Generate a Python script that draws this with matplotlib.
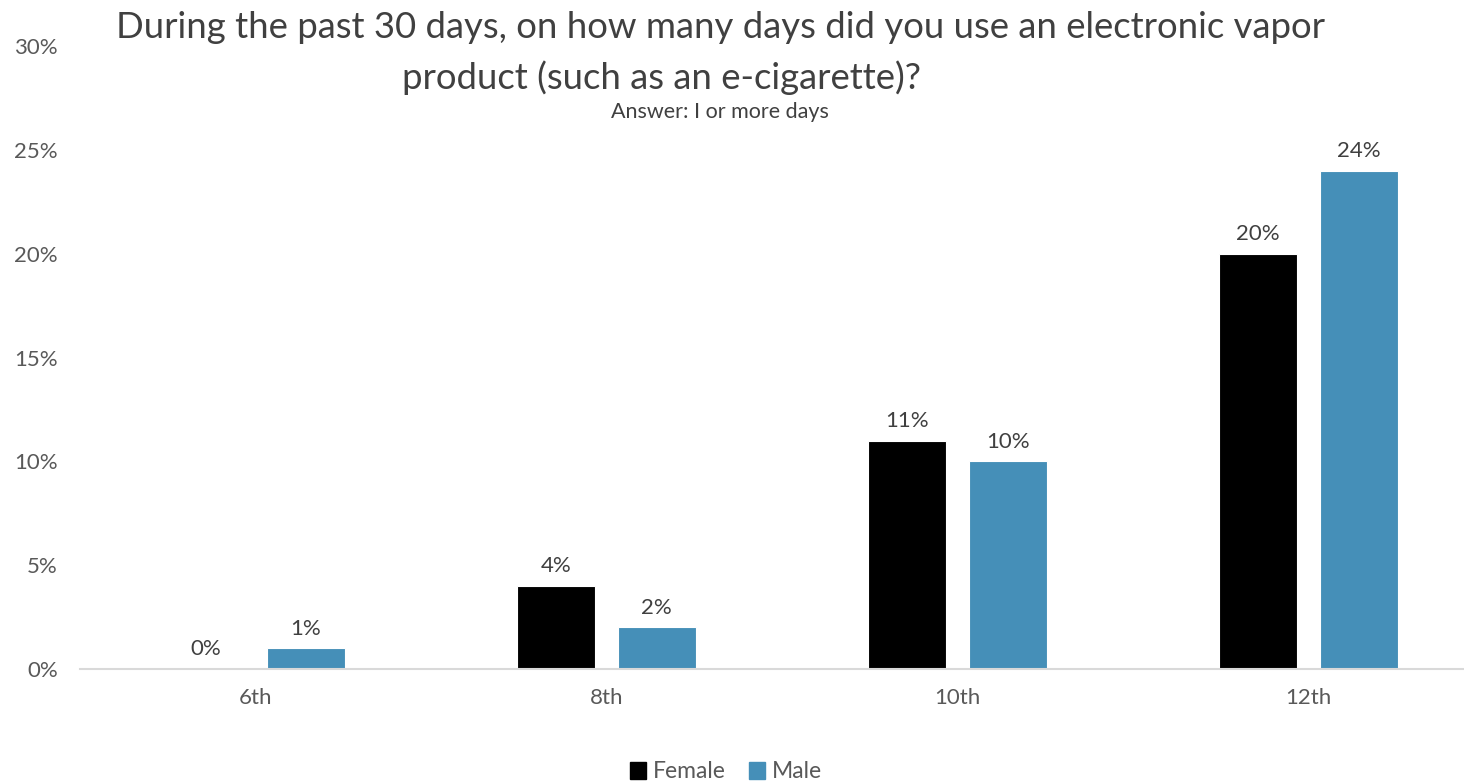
import matplotlib
matplotlib.use('Agg')
import matplotlib.pyplot as plt
import numpy as np
from matplotlib.patches import Patch

grades = ['6th', '8th', '10th', '12th']
female = [0, 4, 11, 20]
male = [1, 2, 10, 24]
yticks = [0, 5, 10, 15, 20, 25, 30]

BLUE = '#458FB8'
TEXT = '#595959'

plt.rcParams['font.family'] = ['Lato', 'DejaVu Sans']

fig = plt.figure(figsize=(14.64, 7.84), dpi=100)
ax = fig.add_axes([80 / 1464, 115 / 784, 1404 / 1464, 623 / 784])

x = np.arange(len(grades))
width = 0.222
off = 0.143
bf = ax.bar(x - off, female, width, color='black', edgecolor='white', linewidth=0.8)
bm = ax.bar(x + off, male, width, color=BLUE, edgecolor='white', linewidth=0.8)

for rects, vals in ((bf, female), (bm, male)):
    for r, v in zip(rects, vals):
        ax.annotate(f'{v}%', (r.get_x() + r.get_width() / 2, v),
                    xytext=(0, 7), textcoords='offset points',
                    ha='center', va='bottom', fontsize=16, color='#404040')

ax.set_xlim(-0.5, len(grades) - 0.5)
ax.set_ylim(0, 30)
ax.set_xticks(x)
ax.set_xticklabels(grades)
ax.set_yticks(yticks)
ax.set_yticklabels([f'{t}%' for t in yticks])
ax.tick_params(length=0, labelsize=16, labelcolor=TEXT)
ax.tick_params(axis='x', pad=14)
ax.tick_params(axis='y', pad=16)

for s in ('top', 'right', 'left'):
    ax.spines[s].set_visible(False)
ax.spines['bottom'].set_color('#D9D9D9')
ax.spines['bottom'].set_linewidth(1.5)

fig.text(721 / 1464, 1 - 28 / 784,
         'During the past 30 days, on how many days did you use an electronic vapor',
         ha='center', va='center', fontsize=26.3, color='#404040')
fig.text(662 / 1464, 1 - 78 / 784, 'product (such as an e-cigarette)?',
         ha='center', va='center', fontsize=26.3, color='#404040')
fig.text(720 / 1464, 1 - 112 / 784, 'Answer: I or more days',
         ha='center', va='center', fontsize=15.5, color='#404040')

handles = [Patch(color='black', label='Female'), Patch(color=BLUE, label='Male')]
fig.legend(handles=handles, loc='center', bbox_to_anchor=(726 / 1464, 1 - 772 / 784),
           ncol=2, frameon=False, fontsize=16.5, labelcolor=TEXT,
           handlelength=0.7, handleheight=0.7, handletextpad=0.3, columnspacing=1.0)

fig.savefig('out.png', dpi=100)
